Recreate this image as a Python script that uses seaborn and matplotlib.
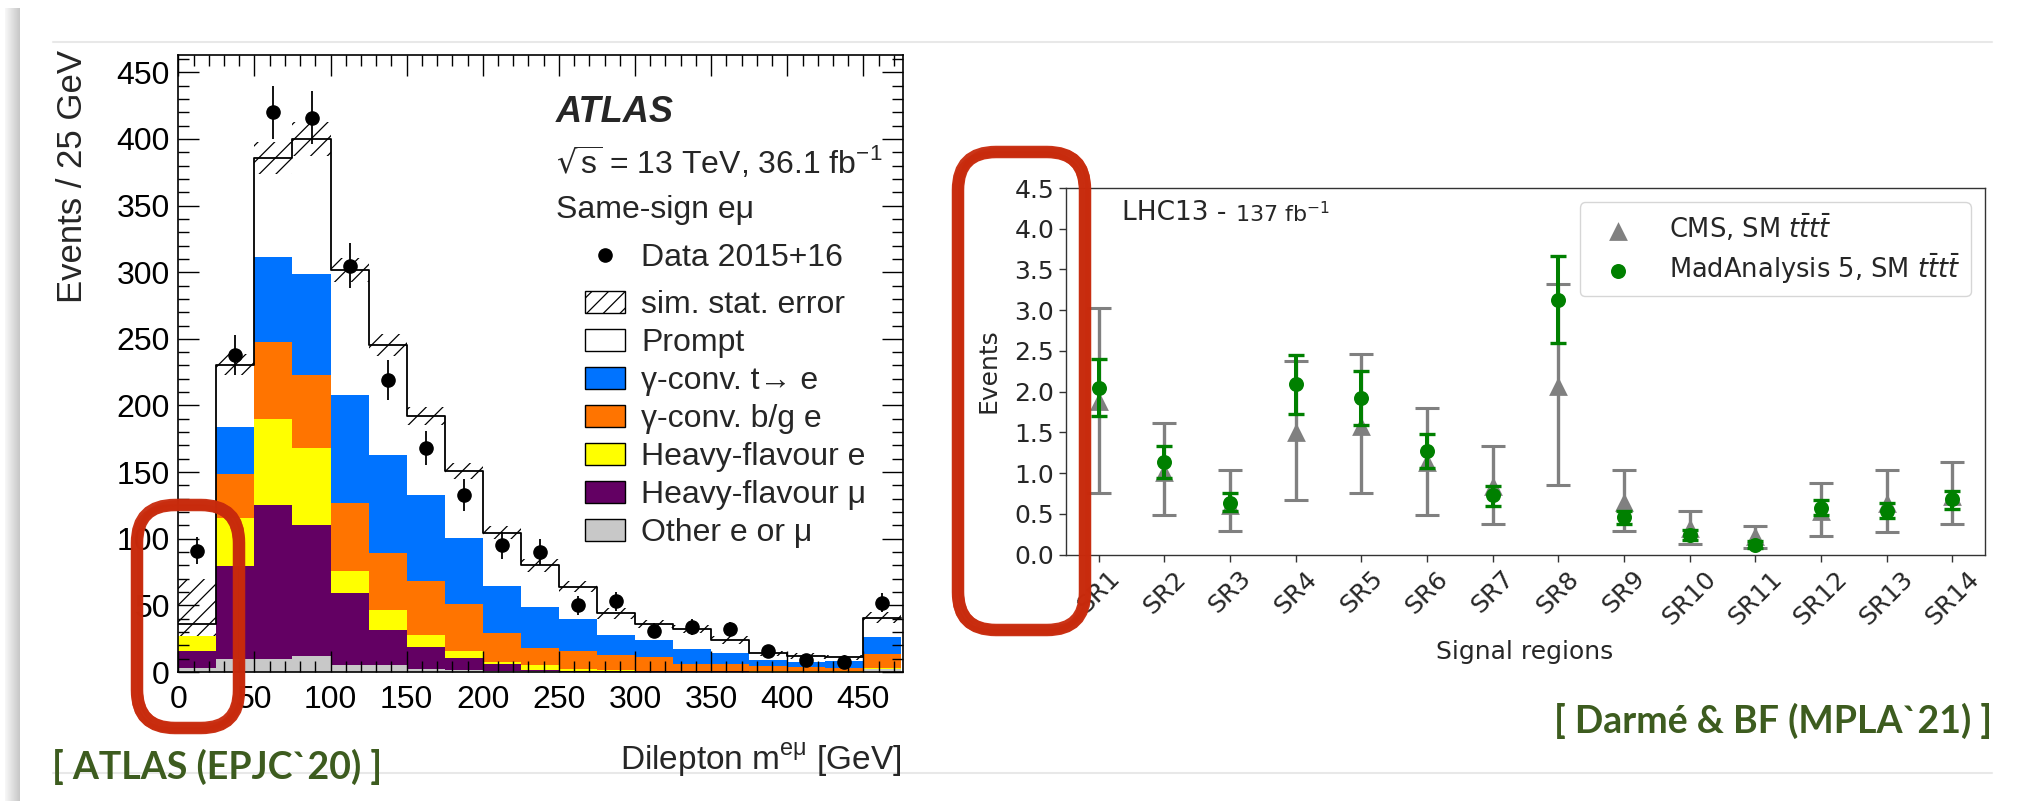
import numpy as np
import pandas as pd
import matplotlib
matplotlib.use("Agg")
import matplotlib.pyplot as plt
import seaborn as sns
from matplotlib.patches import Patch, FancyBboxPatch
from matplotlib.lines import Line2D
from matplotlib.ticker import MultipleLocator, FormatStrFormatter

# ---------------- left panel: ATLAS same-sign e-mu (events / 25 GeV) ----------------
bin_low = [0, 25, 50, 75, 100, 125, 150, 175, 200, 225, 250, 275, 300, 325, 350, 375, 400, 425, 450]
bin_width = 25
other_e_mu = [3, 9.5, 9.5, 12, 5.5, 5.5, 2, 1.2, 1, 0.5, 0.3, 0.3, 0.3, 0.2, 0.2, 0.2, 0.2, 0.2, 2]
hf_mu = [13, 70, 116, 98, 54, 26, 17, 9.5, 5, 1, 0.7, 0.5, 0.3, 0.2, 0.2, 0.1, 0.1, 0.1, 0.5]
hf_e = [11, 36, 64, 58, 16, 15, 9, 5, 1.5, 3.5, 1, 0.4, 0.2, 0.2, 0.1, 0.1, 0.1, 0.1, 0.5]
conv_bg = [0, 33, 58, 55, 51, 43, 40, 35, 21.5, 13, 14, 11.8, 10.2, 5.4, 5.5, 4.1, 3.4, 2.6, 10.3]
conv_t = [0, 35, 64, 76, 81, 73, 65, 50, 35.5, 31, 24, 14.5, 13, 11, 8, 4.5, 3.7, 5, 13]
prompt = [9, 47, 74, 101, 94, 83, 59, 50, 40, 31, 24, 16.5, 12, 15, 10, 5, 4.5, 3, 14.5]
sim_stat_err = [34, 8, 12, 13, 9, 8, 7, 6, 5, 5, 4, 4, 3, 3, 3, 2, 2, 2, 4]
data_2015_16 = [91, 238, 420, 416, 305, 219, 168, 133, 95, 90, 50, 53, 31, 34, 32, 16, 9, 7.5, 52]
data_err = [10, 15, 20, 20, 17, 15, 13, 12, 10, 9.5, 7, 7, 5.5, 6, 5.7, 4, 3, 3, 7]

comp_names = ["\u03b3-conv. t\u2192 e", "\u03b3-conv. b/g e", "Heavy-flavour e", "Heavy-flavour \u03bc", "Other e or \u03bc"]
comp_values = [conv_t, conv_bg, hf_e, hf_mu, other_e_mu]
comp_colors = ["#0073ff", "#ff7400", "#ffff00", "#630063", "#c8c8c8"]

# ---------------- right panel: CMS vs MadAnalysis 5 ----------------
regions = ["SR1", "SR2", "SR3", "SR4", "SR5", "SR6", "SR7", "SR8", "SR9", "SR10", "SR11", "SR12", "SR13", "SR14"]
cms = [1.88, 1.01, 0.61, 1.50, 1.58, 1.14, 0.84, 2.07, 0.65, 0.32, 0.23, 0.54, 0.63, 0.72]
cms_lo = [0.76, 0.48, 0.29, 0.67, 0.76, 0.48, 0.38, 0.85, 0.29, 0.13, 0.08, 0.23, 0.28, 0.38]
cms_hi = [3.03, 1.61, 1.04, 2.37, 2.46, 1.80, 1.33, 3.32, 1.04, 0.54, 0.35, 0.88, 1.04, 1.13]
ma5 = [2.05, 1.13, 0.63, 2.09, 1.92, 1.27, 0.73, 3.13, 0.46, 0.24, 0.12, 0.57, 0.53, 0.68]
ma5_lo = [1.70, 0.94, 0.54, 1.73, 1.59, 1.06, 0.60, 2.60, 0.38, 0.18, 0.08, 0.48, 0.45, 0.56]
ma5_hi = [2.40, 1.33, 0.75, 2.45, 2.25, 1.48, 0.84, 3.66, 0.54, 0.30, 0.17, 0.67, 0.63, 0.78]

W, H = 2020, 801
sns.set_style("ticks")
plt.rcParams["font.family"] = ["DejaVu Sans"]
plt.rcParams["hatch.linewidth"] = 0.9
plt.rcParams["hatch.color"] = "black"
ATL = ["Liberation Sans", "DejaVu Sans"]

fig = plt.figure(figsize=(W / 100, H / 100), dpi=100)
fig.patch.set_facecolor("white")


def fx(px):
    return px / W


def fy(py):
    return 1 - py / H


# background decorations (pixel coords, y downward)
bg = fig.add_axes([0, 0, 1, 1], zorder=-5)
bg.set_xlim(0, W)
bg.set_ylim(H, 0)
bg.axis("off")
bg.imshow(np.linspace(0.97, 0.78, 40)[None, :], cmap="gray", vmin=0, vmax=1,
          extent=[5, 20, H, 8], aspect="auto")
bg.plot([53, 1992], [42, 42], color="#e8e8e8", lw=1.5)
bg.plot([53, 1992], [773, 773], color="#e8e8e8", lw=1.5)

# ---------------- left axes ----------------
ax1 = fig.add_axes([fx(178.3), fy(672), (903 - 178.3) / W, (672 - 55) / H])
centers = [b + bin_width / 2 for b in bin_low]
edges = bin_low + [bin_low[-1] + bin_width]
rows = []
for name, vals in zip(comp_names, comp_values):
    for c, v in zip(centers, vals):
        rows.append({"m": c, "w": v, "comp": name})
df = pd.DataFrame(rows)
total = np.sum([conv_t, conv_bg, hf_e, hf_mu, other_e_mu, prompt], axis=0)
err = np.array(sim_stat_err)

# hatched MC stat band (below colored stack; prompt is hollow)
ax1.bar(centers, 2 * err, bottom=total - err, width=bin_width, fill=False,
        hatch="//", edgecolor="black", linewidth=0, zorder=1)
sns.histplot(data=df, x="m", weights="w", hue="comp", hue_order=comp_names,
             multiple="stack", bins=edges, element="step", fill=True,
             palette=dict(zip(comp_names, comp_colors)), alpha=1, linewidth=0,
             legend=False, ax=ax1, zorder=2)
sns.histplot(x=centers, weights=total, bins=edges, element="step", fill=False,
             color="black", linewidth=1.3, ax=ax1, zorder=3)
ax1.errorbar(centers, data_2015_16, yerr=data_err, fmt="o", color="black", ms=9.5,
             elinewidth=1.3, capsize=0, zorder=6)
ax1.set_xlim(0, 476)
ax1.set_ylim(0, 463)
ax1.set_xlabel("")
ax1.set_ylabel("")
ax1.xaxis.set_major_locator(MultipleLocator(50))
ax1.xaxis.set_minor_locator(MultipleLocator(10))
ax1.yaxis.set_major_locator(MultipleLocator(50))
ax1.yaxis.set_minor_locator(MultipleLocator(10))
ax1.set_axisbelow(False)
ax1.tick_params(which="both", direction="in", top=True, right=True, width=1.0, color="black",
                labelsize=23, labelfontfamily="Liberation Sans", labelcolor="black")
ax1.tick_params(which="major", length=15)
ax1.tick_params(which="minor", length=8)
ax1.tick_params(axis="x", pad=9)
ax1.tick_params(axis="y", pad=6)
for s in ax1.spines.values():
    s.set_color("black")
    s.set_linewidth(1.2)

fig.text(fx(73), fy(50), "Events / 25 GeV", rotation=90, ha="center", va="top",
         fontsize=25, family=ATL)
fig.text(fx(902), fy(770), "Dilepton m$^{\\mathregular{e\u03bc}}$ [GeV]", ha="right",
         va="baseline", fontsize=24, family=ATL)

# ATLAS header + legend
fig.text(fx(556), fy(112), "ATLAS", fontsize=26, fontweight="bold", fontstyle="italic",
         family=ATL, va="center", ha="left")
fig.text(fx(556), fy(162), "$\\sqrt{\\mathregular{s}}$ = 13 TeV, 36.1 fb$^{\\mathregular{-1}}$",
         fontsize=23, family=ATL, va="center", ha="left")
fig.text(fx(556), fy(210), "Same-sign e\u03bc", fontsize=23, family=ATL, va="center", ha="left")
leg_kw = dict(loc="upper left", bbox_transform=fig.transFigure, frameon=False,
              prop={"family": ATL, "size": 23}, handlelength=1.25, handleheight=0.67,
              handletextpad=0.5, labelspacing=0.25, borderpad=0, borderaxespad=0)
data_leg = ax1.legend([Line2D([], [], marker="o", color="black", ls="none", ms=9.5)],
                      ["Data 2015+16"], bbox_to_anchor=(fx(585), fy(243)), **leg_kw)
ax1.add_artist(data_leg)
handles = [Patch(facecolor="white", edgecolor="black", hatch="//", lw=1),
           Patch(facecolor="white", edgecolor="black", lw=1)]
handles += [Patch(facecolor=c, edgecolor="black", lw=1) for c in comp_colors]
labels = ["sim. stat. error", "Prompt"] + comp_names
ax1.legend(handles, labels, bbox_to_anchor=(fx(585), fy(290)), **leg_kw)

# ---------------- right axes ----------------
ax2 = fig.add_axes([fx(1066), fy(554.5), 919 / W, 366.5 / H])
cms_a, ma5_a = np.array(cms), np.array(ma5)
ax2.errorbar(regions, cms, yerr=[cms_a - np.array(cms_lo), np.array(cms_hi) - cms_a], fmt="none",
             ecolor="gray", elinewidth=2.4, capsize=8.6, capthick=2.2, zorder=2)
sns.scatterplot(x=regions, y=cms, marker="^", s=13.5 ** 2, color="gray", linewidth=0,
                label="CMS, SM $t\\bar{t}t\\bar{t}$", ax=ax2, zorder=3)
ax2.errorbar(regions, ma5, yerr=[ma5_a - np.array(ma5_lo), np.array(ma5_hi) - ma5_a], fmt="none",
             ecolor="green", elinewidth=2.9, capsize=5.6, capthick=2.4, zorder=4)
sns.scatterplot(x=regions, y=ma5, marker="o", s=10.8 ** 2, color="green", linewidth=0,
                label="MadAnalysis 5, SM $t\\bar{t}t\\bar{t}$", ax=ax2, zorder=5)
ax2.set_xlim(-0.5, 13.5)
ax2.set_ylim(0, 4.5)
ax2.yaxis.set_major_locator(MultipleLocator(0.5))
ax2.yaxis.set_major_formatter(FormatStrFormatter("%.1f"))
ax2.tick_params(labelsize=18, length=5, width=1, color="#333333")
plt.setp(ax2.get_xticklabels(), rotation=45, ha="center")
for s in ax2.spines.values():
    s.set_visible(True)
    s.set_color("#333333")
    s.set_linewidth(1.0)
ax2.set_xlabel("")
ax2.set_ylabel("")
fig.text(fx(1525), fy(659), "Signal regions", ha="center", va="baseline", fontsize=18)
fig.text(fx(989), fy(371), "Events", rotation=90, ha="center", va="center", fontsize=18)
t1 = ax2.text(0.061, 0.932, "LHC13 - ", transform=ax2.transAxes, fontsize=19, va="center", ha="left")
ax2.annotate("137 fb$^{-1}$", xy=(1, 0), xycoords=t1, va="bottom", ha="left", fontsize=16)
ax2.legend(loc="upper right", fontsize=18.5, borderaxespad=0.56, framealpha=0.8, edgecolor="0.8",
           handlelength=2.16, handletextpad=0.92, labelspacing=0.3)

# ---------------- overlay: references + red hand-drawn boxes ----------------
ov = fig.add_axes([0, 0, 1, 1], zorder=20)
ov.set_xlim(0, W)
ov.set_ylim(H, 0)
ov.axis("off")
ov.patch.set_alpha(0)
green = "#3d5c1f"
ov.text(52, 779, "[ ATLAS (EPJC`20) ]", fontsize=27, fontweight="bold", family="Lato",
        color=green, ha="left", va="baseline")
ov.text(1992, 733, "[ Darm\u00e9 & BF (MPLA`21) ]", fontsize=27, fontweight="bold", family="Lato",
        color=green, ha="right", va="baseline")
red = "#c82a0c"
for (x0, y0, x1, y1) in [(137, 505, 239, 728), (958, 152, 1085, 630)]:
    for dx, dy, lw, a in [(0, 0, 9, 0.95), (-3, 2, 4, 0.7), (3, -2, 4, 0.7), (2, 3, 3, 0.6)]:
        ov.add_patch(FancyBboxPatch((x0 + dx, y0 + dy), (x1 - x0), (y1 - y0),
                                    boxstyle="round,pad=0,rounding_size=38",
                                    fc="none", ec=red, lw=lw, alpha=a))

fig.savefig("out.png", dpi=100)
